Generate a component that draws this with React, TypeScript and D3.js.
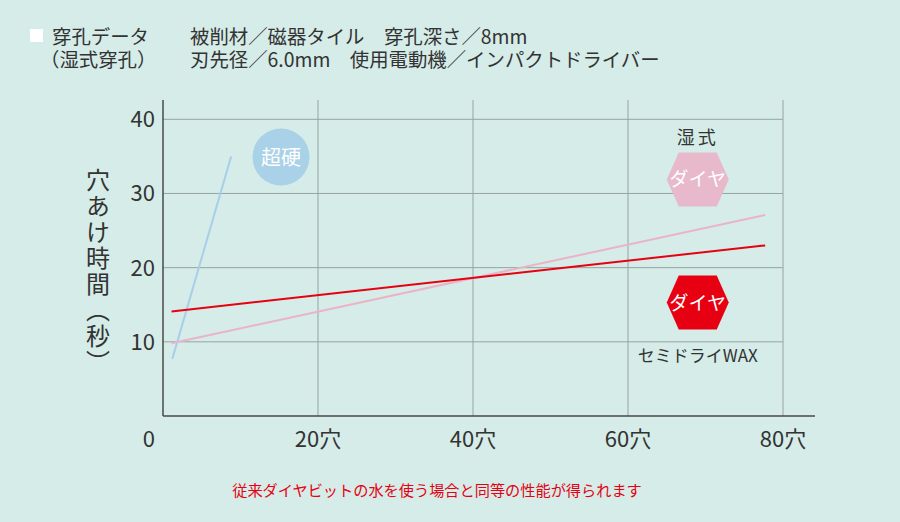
import React from "react";
import * as d3 from "d3";

const xTicks = [20, 40, 60, 80];
const yTicks = [10, 20, 30, 40];
const carbideHoles = [1.2, 8.8];
const carbideTimes = [7.7, 35.0];
const semiDryHoles = [1.1, 77.7];
const semiDryTimes = [14.1, 23.0];
const wetHoles = [1.1, 77.7];
const wetTimes = [9.8, 27.1];
const headerLine1 = ["穿孔データ", "被削材／磁器タイル　穿孔深さ／8mm"];
const headerLine2 = ["（湿式穿孔）", "刃先径／6.0mm　使用電動機／インパクトドライバー"];
const yTitle = "穴あけ時間（秒）";
const footer = "従来ダイヤビットの水を使う場合と同等の性能が得られます";

const W = 900;
const H = 522;
const FONT = "'Noto Sans CJK JP', 'Noto Sans', sans-serif";

export default function App() {
  const x = d3.scaleLinear().domain([0, 80]).range([163, 783]);
  const y = d3.scaleLinear().domain([0, 40]).range([416, 119.3]);
  const line = d3
    .line<[number, number]>()
    .x((d) => x(d[0]))
    .y((d) => y(d[1]));
  const zip = (a: number[], b: number[]) => a.map((v, i) => [v, b[i]] as [number, number]);

  const hex = (cx: number, cy: number) => {
    const pts: [number, number][] = [
      [cx - 31, cy],
      [cx - 19, cy - 27],
      [cx + 19, cy - 27],
      [cx + 31, cy],
      [cx + 19, cy + 27],
      [cx - 19, cy + 27],
    ];
    return pts.map((p) => p.join(",")).join(" ");
  };

  const hx = x(69);
  const pinkY = y(31.9);
  const redY = y(15.3);

  return (
    <svg
      width={W}
      height={H}
      style={{ position: "absolute", left: 0, top: 0, display: "block" }}
      fontFamily={FONT}
    >
      <rect x={0} y={0} width={W} height={H} fill="#d5ece8" />

      {/* header */}
      <rect x={30} y={29} width={13} height={13} fill="#ffffff" />
      <text x={52} y={44} fontSize={19.4} fill="#333">{headerLine1[0]}</text>
      <text x={190} y={44} fontSize={19.4} fill="#333">{headerLine1[1]}</text>
      <text x={40} y={67} fontSize={19.4} fill="#333">{headerLine2[0]}</text>
      <text x={190} y={67} fontSize={19.4} fill="#333">{headerLine2[1]}</text>

      {/* grid */}
      {yTicks.map((t) => (
        <line key={"gy" + t} x1={x(0)} x2={x(80)} y1={y(t)} y2={y(t)} stroke="#98a3a0" strokeWidth={1} />
      ))}
      {xTicks.map((t) => (
        <line key={"gx" + t} x1={x(t)} x2={x(t)} y1={100} y2={y(0)} stroke="#98a3a0" strokeWidth={1} />
      ))}

      {/* axes */}
      <line x1={x(0)} x2={x(0)} y1={100} y2={y(0)} stroke="#4a4a4a" strokeWidth={1.5} />
      <line x1={x(0)} x2={815} y1={y(0)} y2={y(0)} stroke="#4a4a4a" strokeWidth={1.5} />

      {/* y tick labels */}
      {yTicks.map((t) => (
        <text key={"ly" + t} x={155} y={y(t) + 8} fontSize={22} textAnchor="end" fill="#333">
          {t}
        </text>
      ))}
      <text x={155} y={447} fontSize={22} textAnchor="end" fill="#333">0</text>
      {xTicks.map((t) => (
        <text key={"lx" + t} x={x(t)} y={447} fontSize={22} textAnchor="middle" fill="#333">
          {t}穴
        </text>
      ))}

      {/* y title */}
      <text
        x={98}
        y={168}
        fontSize={24}
        fill="#333"
        style={{ writingMode: "vertical-rl" as any }}
        letterSpacing={2}
      >
        {yTitle}
      </text>

      {/* data lines */}
      <path d={line(zip(carbideHoles, carbideTimes)) || ""} fill="none" stroke="#a9cfe8" strokeWidth={2} />
      <path d={line(zip(wetHoles, wetTimes)) || ""} fill="none" stroke="#ebb3c7" strokeWidth={2} />
      <path d={line(zip(semiDryHoles, semiDryTimes)) || ""} fill="none" stroke="#e60012" strokeWidth={2} />

      {/* annotations */}
      <circle cx={281} cy={157} r={28.5} fill="#a9d1e7" />
      <text x={281} y={165} fontSize={20} fill="#fff" textAnchor="middle">超硬</text>

      <text x={hx} y={144} fontSize={18} fill="#333" textAnchor="middle" letterSpacing={3}>湿式</text>
      <polygon points={hex(hx, pinkY)} fill="#e8b9cb" />
      <text x={hx} y={pinkY + 7} fontSize={19} fill="#fff" textAnchor="middle">ダイヤ</text>
      <polygon points={hex(hx, redY)} fill="#e60012" />
      <text x={hx} y={redY + 7} fontSize={19} fill="#fff" textAnchor="middle">ダイヤ</text>
      <text x={hx} y={362} fontSize={17} fill="#333" textAnchor="middle">セミドライWAX</text>

      {/* footer */}
      <text x={437} y={496} fontSize={15.2} fill="#e60012" textAnchor="middle">{footer}</text>
    </svg>
  );
}
